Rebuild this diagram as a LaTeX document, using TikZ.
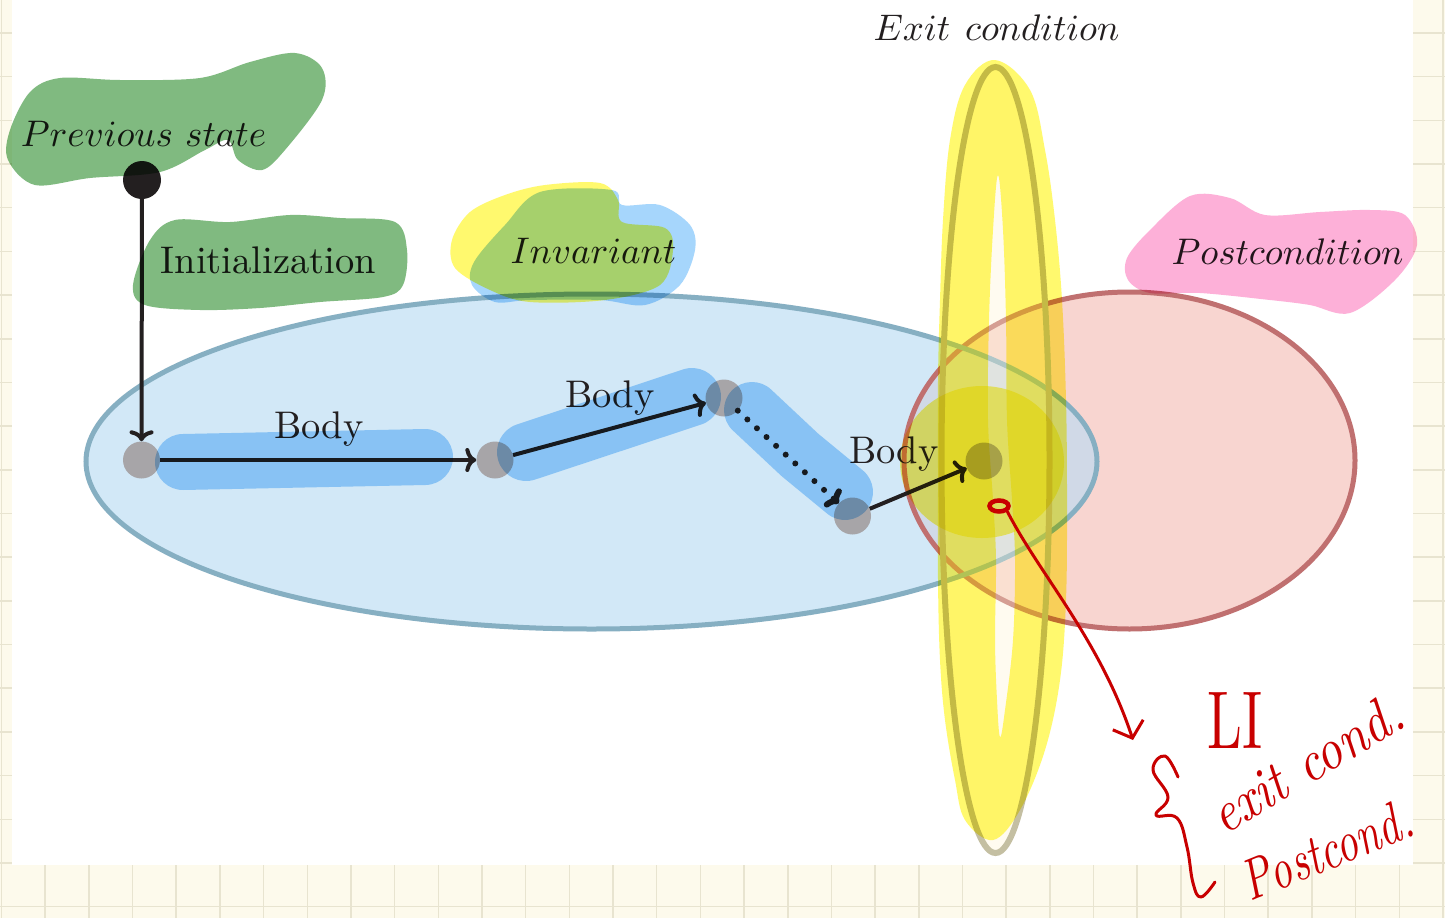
\documentclass[tikz,border=0pt]{standalone}
\usetikzlibrary{arrows.meta,shapes.geometric}

\definecolor{paper}{HTML}{FDFAEC}
\definecolor{gridc}{HTML}{E8E4D0}
\definecolor{ink}{HTML}{231F20}
\definecolor{stategray}{HTML}{A7A5A8}
\definecolor{invfill}{HTML}{BADCF4}
\definecolor{invline}{HTML}{86AFC2}
\definecolor{postfill}{HTML}{F8D5D0}
\definecolor{postline}{HTML}{C07070}
\definecolor{exitline}{HTML}{C4BFA2}
\definecolor{exitfill}{HTML}{FFF6D5}
\definecolor{hlgreen}{HTML}{80BA80}
\definecolor{hlyellow}{HTML}{FFF96E}
\definecolor{hlblue}{HTML}{A6D6FC}
\definecolor{hlpink}{HTML}{FDB0D8}
\definecolor{pen}{HTML}{C80000}

% labels are set at 10pt and enlarged
\newcommand{\lbltext}[1]{\scalebox{3.85}{#1}}
\newcommand{\mathlbl}[1]{\scalebox{3.7}{$#1$}}

\tikzset{
  lbl/.style={text=ink, inner sep=0pt, anchor=base},
  statedot/.style={circle, fill=stategray, minimum size=37pt, inner sep=0pt},
  startdot/.style={circle, fill=ink, minimum size=38pt, inner sep=0pt},
  conn/.style={draw=ink, line width=4pt, -{To[length=11pt,width=24pt]}},
  dotconn/.style={conn, line cap=round, dash pattern=on 0.01pt off 13pt, line width=6pt},
  marker/.style={line cap=round, line join=round},
  gridline/.style={gridc, line width=1.5pt},
  penline/.style={pen, line width=3pt, line cap=round, line join=round},
  handtext/.style={text=pen, inner sep=0pt, font=\itshape},
}

\begin{document}
\begin{tikzpicture}[x=1pt,y=-1pt]
  \path[use as bounding box] (0,0) rectangle (1445,918);

  % notebook page with grid, white sheet on top
  \fill[paper] (0,0) rectangle (1445,918);
  \foreach \k in {0,...,33} \draw[gridline] ({1.5+43.68*\k},0) -- ({1.5+43.68*\k},918);
  \foreach \k in {0,...,20} \draw[gridline] (0,{33+43.68*\k}) -- (1445,{33+43.68*\k});
  \fill[white] (12,0) rectangle (1413,865);

  % postcondition and invariant regions
  \fill[postfill] (1129.5,460.5) ellipse [x radius=225.5, y radius=168.5];
  \fill[invfill, fill opacity=0.64] (591.5,461.5) ellipse [x radius=505.5, y radius=167.5];
  \draw[postline, line width=5pt] (1129.5,460.5) ellipse [x radius=225.5, y radius=168.5];
  \draw[invline, line width=5pt] (591.5,461.5) ellipse [x radius=505.5, y radius=167.5];

  % exit condition region
  \filldraw[fill=exitfill, fill opacity=0.35, draw=exitline, line width=6pt]
    (995.5,460) ellipse [x radius=54, y radius=393];

  % states
  \node[startdot] (prev) at (142,180) {};
  \node[statedot] (s0) at (141.5,460) {};
  \node[statedot] (s1) at (495,460) {};
  \node[statedot] (s2) at (724,398) {};
  \node[statedot] (s3) at (852.5,516) {};
  \node[statedot] (s4) at (984,461) {};

  % transitions
  \draw[conn] (prev) -- (s0);
  \draw[conn] (s0) -- (s1);
  \draw[conn] (s1) -- (s2);
  \draw[dotconn] (s2) -- (s3);
  \draw[conn] (s3) -- (s4);

  % labels
  \node[lbl] (lprev) at (143.5,146) {\mathlbl{Previous\ state}};
  \node[lbl] (linit) at (268.5,273) {\lbltext{Initialization}};
  \node[lbl] (lbody1) at (319,438) {\lbltext{Body}};
  \node[lbl] (lbody2) at (610,407) {\lbltext{Body}};
  \node[lbl] (lbody3) at (894,463) {\lbltext{Body}};
  \node[lbl] (linv) at (593.5,263) {\mathlbl{Invariant}};
  \node[lbl] (lexit) at (996.5,40) {\mathlbl{Exit\ \kern0.7pt condition}};
  \node[lbl] (lpost) at (1287.5,264) {\mathlbl{Postcondition}};

  % highlighter strokes
  \begin{scope}[blend mode=multiply]
    \fill[hlgreen] plot[smooth cycle, tension=0.55] coordinates {
      (10,130) (30,92) (60,78) (120,80) (200,78) (250,62) (295,53) (322,68)
      (322,100) (285,150) (262,170) (238,160) (228,140) (205,150) (160,172)
      (90,178) (35,185) (8,160)};
    \fill[hlgreen] plot[smooth cycle, tension=0.55] coordinates {
      (133,285) (150,240) (175,220) (230,222) (290,215) (340,218) (395,222)
      (407,250) (403,285) (383,297) (320,302) (260,308) (200,310) (145,305)};
    \fill[hlyellow] plot[smooth cycle, tension=0.55] coordinates {
      (452,240) (470,212) (505,195) (545,185) (600,183) (618,200) (622,222)
      (665,228) (673,250) (660,285) (605,300) (530,302) (490,290) (455,268)};
    \fill[hlblue] plot[smooth cycle, tension=0.55] coordinates {
      (505,225) (540,192) (612,190) (622,205) (660,205) (690,225) (695,250)
      (680,285) (645,305) (600,300) (530,300) (495,302) (472,285) (474,262)};
    \fill[hlpink] plot[smooth cycle, tension=0.55] coordinates {
      (1127,258) (1150,230) (1190,196) (1230,198) (1265,215) (1320,212)
      (1370,210) (1405,215) (1417,245) (1395,280) (1350,313) (1310,305)
      (1270,300) (1200,293) (1150,293) (1128,280)};
    \draw[hlblue, marker, line width=56pt] (183,462) -- (425,457);
    \draw[hlblue, marker, line width=58pt] (526,452) -- (692,397);
    \draw[hlblue, marker, line width=56pt] (752,410) -- (800,455) -- (845,492);
    \fill[hlyellow, even odd rule]
      plot[smooth cycle, tension=0.6] coordinates {
        (995,60) (1030,90) (1045,150) (1055,220) (1062,300) (1066,400)
        (1067,500) (1066,600) (1060,680) (1045,750) (1020,810) (993,840)
        (965,820) (955,780) (945,720) (940,660) (938,580) (938,480)
        (938,380) (940,300) (943,220) (950,140) (965,85)}
      plot[smooth cycle, tension=0.6] coordinates {
        (998,175) (1003,230) (1006,320) (1007,420) (1012,500) (1015,560)
        (1013,640) (1005,710) (1000,737) (997,700) (995,640) (996,560)
        (993,500) (988,420) (989,320) (993,230)};
    \fill[hlyellow] (982,462) ellipse [x radius=82, y radius=76];
  \end{scope}

  % handwritten note
  \node[draw=pen, line width=4.5pt, ellipse, minimum width=19pt, minimum height=11pt,
        inner sep=0pt] (loop) at (999,506) {};
  \coordinate (tip) at (1133,740);
  \draw[penline, -{Straight Barb[length=14pt,width=32pt]}]
    (loop.south east) .. controls (1040,575) and (1100,640) .. (tip);
  \draw[penline] plot[smooth, tension=0.7] coordinates {
    (1178,777) (1165,756) (1153,770) (1168,797) (1156,815) (1177,818)
    (1187,847) (1193,883) (1201,897) (1215,882)};
  \node[handtext, font=\upshape] (nli) at (1235,720) {\resizebox{55pt}{56pt}{LI}};
  \node[handtext, anchor=base west, rotate=31] (nexit) at (1224,836)
    {\resizebox{215pt}{40pt}{exit cond.}};
  \node[handtext, anchor=base west, rotate=22] (npost) at (1250,902)
    {\resizebox{180pt}{40pt}{Postcond.}};
\end{tikzpicture}
\end{document}
